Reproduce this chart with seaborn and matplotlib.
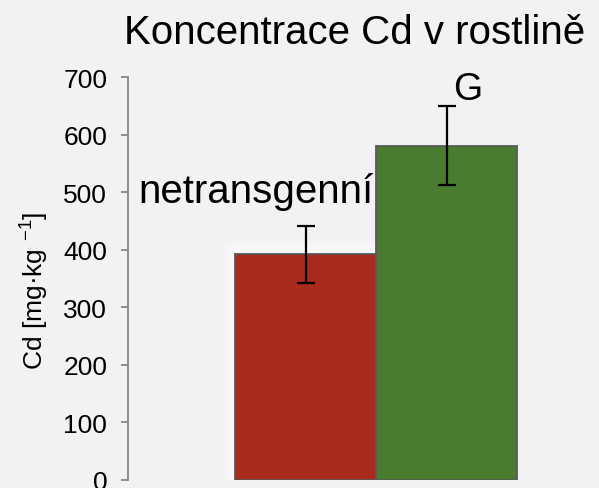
import matplotlib
matplotlib.use("Agg")
import matplotlib.pyplot as plt
import seaborn as sns
import pandas as pd
import numpy as np
from matplotlib.patches import Rectangle

categories = ["netransgenní", "G"]
values = [393, 581]
err_low = [343, 512]
err_high = [441, 649]
colors = ["#A92B1E", "#4A7C2F"]
yticks = [0, 100, 200, 300, 400, 500, 600, 700]
title = "Koncentrace Cd v rostlině"

sns.set_theme(style="white")
plt.rcParams["font.family"] = ["Liberation Sans", "DejaVu Sans"]
plt.rcParams["mathtext.fontset"] = "custom"
plt.rcParams["mathtext.rm"] = "Liberation Sans"
plt.rcParams["mathtext.it"] = "Liberation Sans"
plt.rcParams["mathtext.default"] = "regular"

bg = "#F2F2F2"
fig = plt.figure(figsize=(5.99, 4.89), dpi=100, facecolor=bg)
ax = fig.add_axes([128/599, 8/489, (598-128)/599, (481-78)/489])
ax.set_facecolor(bg)

df = pd.DataFrame({"cat": categories, "val": values})
sns.barplot(data=df, x="cat", y="val", hue="cat", palette=colors, width=1.0,
            saturation=1, edgecolor="#595959", linewidth=1.3, legend=False,
            ax=ax, zorder=2)

xs = np.arange(len(categories))
vals = np.array(values)

# soft white glow behind the first bar
for k in range(1, 6):
    dx = k * 2.5 / 141
    dy = k * 2.5 / 0.5757
    ax.add_patch(Rectangle((xs[0] - 0.5 - dx, 0), 1.0 + dx, vals[0] + dy,
                           facecolor="white", edgecolor="none", alpha=0.22, zorder=1))

yerr = np.vstack([vals - np.array(err_low), np.array(err_high) - vals])
ax.errorbar(xs, vals, yerr=yerr, fmt="none", ecolor="black", elinewidth=1.6,
            capsize=6.5, capthick=1.6, zorder=3)

# category labels above bars
ax.text(xs[0] - 0.35, 483, categories[0], ha="center", va="baseline", fontsize=29, color="black")
ax.text(xs[1] + 0.15, 662, categories[1], ha="center", va="baseline", fontsize=27, color="black",
        clip_on=False)

ax.set_ylim(0, 700)
ax.set_xlim(-0.5 - 107/141, -0.5 + (598-235)/141)
ax.set_yticks(yticks)
ax.set_yticklabels([str(t) for t in yticks], fontsize=19)
ax.set_xticks([])
ax.set_xlabel("")
ax.set_ylabel("")

for s in ["top", "right", "bottom"]:
    ax.spines[s].set_visible(False)
ax.spines["left"].set_color("#868686")
ax.spines["left"].set_linewidth(1.3)
ax.tick_params(axis="y", which="both", left=True, length=5, width=1.3, color="#868686",
               pad=10, labelcolor="black")

fig.text(35/599, 1 - 291/489, "Cd [mg·kg $^{-1}$]", rotation=90, ha="center", va="center",
         fontsize=19, color="black")
fig.text(355/599, 1 - 33/489, title, ha="center", va="center", fontsize=29, color="black")

fig.savefig("out.png", dpi=100, facecolor=bg)
